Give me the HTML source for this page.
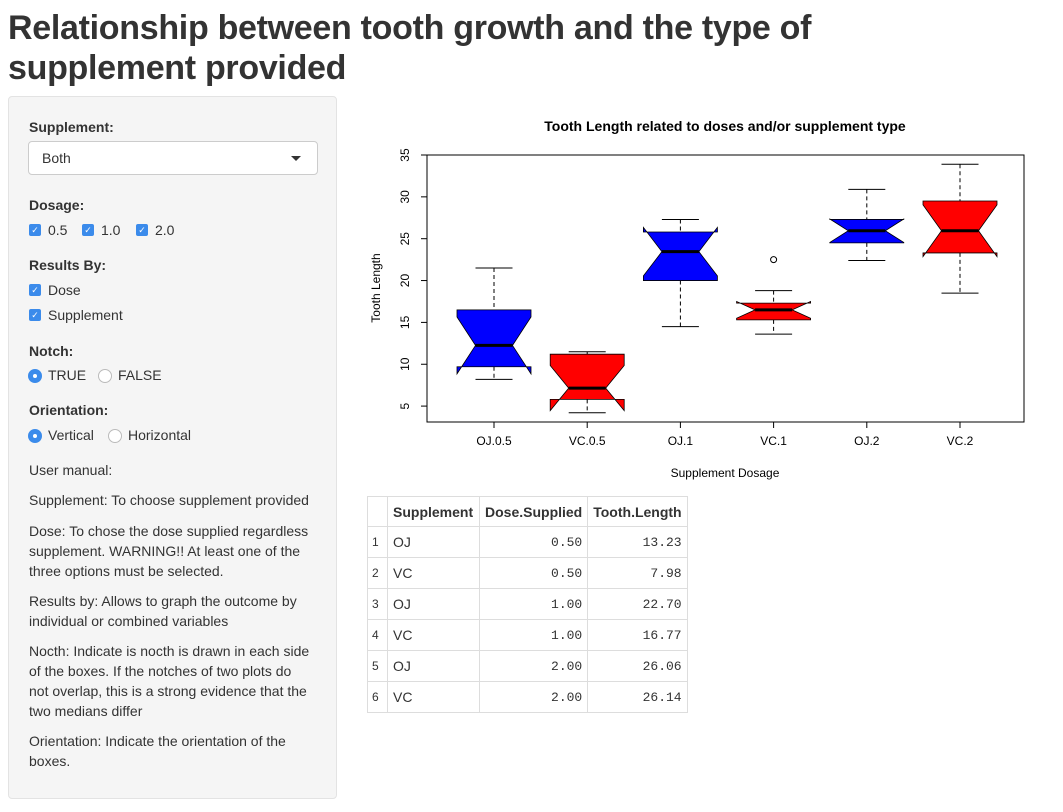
<!DOCTYPE html>
<html><head><meta charset="utf-8">
<style>
body{margin:0;width:1063px;height:812px;background:#fff;font-family:"Liberation Sans",sans-serif;color:#333;position:relative;overflow:hidden}
h1{position:absolute;left:8px;top:8px;margin:0;font-size:34px;font-weight:bold;line-height:40px;color:#333;letter-spacing:-0.3px}
#side{position:absolute;left:8px;top:96px;width:327px;height:701px;background:#f5f5f5;border:1px solid #e3e3e3;border-radius:4px;font-size:14px}
.lbl{position:absolute;left:20px;font-weight:bold}
.t{position:absolute;left:20px;line-height:20px;width:305px;white-space:nowrap}
.sel{position:absolute;left:19px;top:44px;width:288px;height:32px;background:#fff;border:1px solid #ccc;border-radius:4px}
.sel span{position:absolute;left:13px;top:8px}
.caret{position:absolute;right:16px;top:14px;width:0;height:0;border-left:5px solid transparent;border-right:5px solid transparent;border-top:5px solid #333}
.cb{position:absolute;width:12px;height:12px;background:#3b8beb;border-radius:2px;color:#fff;font-size:9px;line-height:12px;text-align:center}
.rb{position:absolute;width:12px;height:12px;border-radius:50%;border:1px solid #bbb;background:#fff}
.rb.on{background:#3b8beb;border-color:#3b8beb}
.rb.on::after{content:"";position:absolute;left:4px;top:4px;width:4px;height:4px;border-radius:50%;background:#fff}
.opt{position:absolute}
table{position:absolute;left:367px;top:496px;border-collapse:collapse;font-size:14px}
td,th{border:1px solid #ddd;height:31px;padding:0 5px;box-sizing:border-box}
th{text-align:left;height:30px}
td.n{text-align:right;font-family:"Liberation Mono",monospace;font-size:13px}
td.i{font-size:12px;width:20px;padding:0 4px}
</style></head><body>
<h1>Relationship between tooth growth and the type of<br>supplement provided</h1>
<div id="side">
<div class="lbl" style="top:22px">Supplement:</div>
<div class="sel"><span>Both</span><div class="caret"></div></div>
<div class="lbl" style="top:100px">Dosage:</div>
<div class="cb" style="left:20px;top:127px">✓</div><div class="opt" style="left:39px;top:125px">0.5</div>
<div class="cb" style="left:73px;top:127px">✓</div><div class="opt" style="left:92px;top:125px">1.0</div>
<div class="cb" style="left:127px;top:127px">✓</div><div class="opt" style="left:146px;top:125px">2.0</div>
<div class="lbl" style="top:160px">Results By:</div>
<div class="cb" style="left:20px;top:187px">✓</div><div class="opt" style="left:39px;top:185px">Dose</div>
<div class="cb" style="left:20px;top:212px">✓</div><div class="opt" style="left:39px;top:210px">Supplement</div>
<div class="lbl" style="top:246px">Notch:</div>
<div class="rb on" style="left:19px;top:272px"></div><div class="opt" style="left:39px;top:270px">TRUE</div>
<div class="rb" style="left:89px;top:272px"></div><div class="opt" style="left:109px;top:270px">FALSE</div>
<div class="lbl" style="top:305px">Orientation:</div>
<div class="rb on" style="left:19px;top:332px"></div><div class="opt" style="left:39px;top:330px">Vertical</div>
<div class="rb" style="left:99px;top:332px"></div><div class="opt" style="left:119px;top:330px">Horizontal</div>
<div class="t" style="top:363px">User manual:</div>
<div class="t" style="top:393px">Supplement: To choose supplement provided</div>
<div class="t" style="top:424px">Dose: To chose the dose supplied regardless<br>supplement. WARNING!! At least one of the<br>three options must be selected.</div>
<div class="t" style="top:494px">Results by: Allows to graph the outcome by<br>individual or combined variables</div>
<div class="t" style="top:544px">Nocth: Indicate is nocth is drawn in each side<br>of the boxes. If the notches of two plots do<br>not overlap, this is a strong evidence that the<br>two medians differ</div>
<div class="t" style="top:634px">Orientation: Indicate the orientation of the<br>boxes.</div>
</div>

<svg id="chart" width="1063" height="812" style="position:absolute;left:0;top:0"></svg>

<table>
<tr><th style="width:20px"></th><th style="width:92px">Supplement</th><th style="width:108px">Dose.Supplied</th><th style="width:99px">Tooth.Length</th></tr>
<tr><td class="i">1</td><td>OJ</td><td class="n">0.50</td><td class="n">13.23</td></tr>
<tr><td class="i">2</td><td>VC</td><td class="n">0.50</td><td class="n">7.98</td></tr>
<tr><td class="i">3</td><td>OJ</td><td class="n">1.00</td><td class="n">22.70</td></tr>
<tr><td class="i">4</td><td>VC</td><td class="n">1.00</td><td class="n">16.77</td></tr>
<tr><td class="i">5</td><td>OJ</td><td class="n">2.00</td><td class="n">26.06</td></tr>
<tr><td class="i">6</td><td>VC</td><td class="n">2.00</td><td class="n">26.14</td></tr>
</table>

<script>
const categories = ["OJ.0.5","VC.0.5","OJ.1","VC.1","OJ.2","VC.2"];
const mins = [8.2,4.2,14.5,13.6,22.4,18.5];
const q1s = [9.7,5.8,20.0,15.3,24.5,23.3];
const medians = [12.25,7.15,23.45,16.5,25.95,25.95];
const q3s = [16.5,11.2,25.8,17.3,27.3,29.5];
const maxs = [21.5,11.5,27.3,18.8,30.9,33.9];
const outliers = [[],[],[],[22.5],[],[]];
const colors = ["#0000ff","#ff0000","#0000ff","#ff0000","#0000ff","#ff0000"];
const yTicks = [5,10,15,20,25,30,35];

const svg = document.getElementById('chart');
const NS = 'http://www.w3.org/2000/svg';
const L=427,R=1024,T=155,B=422;
const Y0=3.1,Y1=35;
function y(v){return B-(v-Y0)/(Y1-Y0)*(B-T);}
const x0=494,dx=93.2;
function x(i){return x0+i*dx;}
function mk(tag,attrs,text){const e=document.createElementNS(NS,tag);for(const k in attrs)e.setAttribute(k,attrs[k]);if(text!==undefined)e.textContent=text;svg.appendChild(e);return e;}

let e;
e=mk('rect',{x:L,y:T,width:R-L,height:B-T,fill:'none',stroke:'#000','stroke-width':1});


e=mk('text',{x:725,y:131,'text-anchor':'middle','font-size':14,'font-weight':'bold',fill:'#000','font-family':'Liberation Sans'},'Tooth Length related to doses and/or supplement type');


e=mk('text',{x:725,y:477,'text-anchor':'middle','font-size':12,fill:'#000','font-family':'Liberation Sans'},'Supplement Dosage');


e=mk('text',{x:380,y:288,'text-anchor':'middle','font-size':12,fill:'#000','font-family':'Liberation Sans',transform:'rotate(-90 380 288)'},'Tooth Length');


mk('line',{x1:L,x2:L,y1:y(5),y2:y(35),stroke:'#000'});
yTicks.forEach(v=>{
  mk('line',{x1:L-6,x2:L,y1:y(v),y2:y(v),stroke:'#000'});
  e=mk('text',{x:409,y:y(v),'text-anchor':'middle','font-size':12,fill:'#000','font-family':'Liberation Sans',transform:`rotate(-90 409 ${y(v)})`},String(v));
  
  
});
mk('line',{x1:x(0),x2:x(5),y1:B,y2:B,stroke:'#000'});
categories.forEach((c,i)=>{
  const cx=x(i),hw=37,nw=18.5;
  mk('line',{x1:cx,x2:cx,y1:B,y2:B+6,stroke:'#000'});
  e=mk('text',{x:cx,y:445,'text-anchor':'middle','font-size':12,fill:'#000','font-family':'Liberation Sans'},c);
  
  
  const iqr=q3s[i]-q1s[i];
  const nh=1.58*iqr/Math.sqrt(10);
  const nlo=medians[i]-nh, nhi=medians[i]+nh;
  mk('line',{x1:cx,x2:cx,y1:y(maxs[i]),y2:y(q3s[i]),stroke:'#000','stroke-dasharray':'4,3'});
  mk('line',{x1:cx,x2:cx,y1:y(q1s[i]),y2:y(mins[i]),stroke:'#000','stroke-dasharray':'4,3'});
  mk('line',{x1:cx-nw,x2:cx+nw,y1:y(maxs[i]),y2:y(maxs[i]),stroke:'#000'});
  mk('line',{x1:cx-nw,x2:cx+nw,y1:y(mins[i]),y2:y(mins[i]),stroke:'#000'});
  const pts=[[cx-hw,y(q3s[i])],[cx+hw,y(q3s[i])],[cx+hw,y(nhi)],[cx+nw,y(medians[i])],[cx+hw,y(nlo)],[cx+hw,y(q1s[i])],[cx-hw,y(q1s[i])],[cx-hw,y(nlo)],[cx-nw,y(medians[i])],[cx-hw,y(nhi)]];
  e=mk('polygon',{points:pts.map(p=>p.join(',')).join(' '),fill:colors[i],stroke:'#000','stroke-width':0.8});
  
  
  mk('line',{x1:cx-nw,x2:cx+nw,y1:y(medians[i]),y2:y(medians[i]),stroke:'#000','stroke-width':3});
  outliers[i].forEach(o=>{
    e=mk('circle',{cx:cx,cy:y(o),r:3,fill:'none',stroke:'#000'});
    
    
  });
});
</script>
</body></html>
